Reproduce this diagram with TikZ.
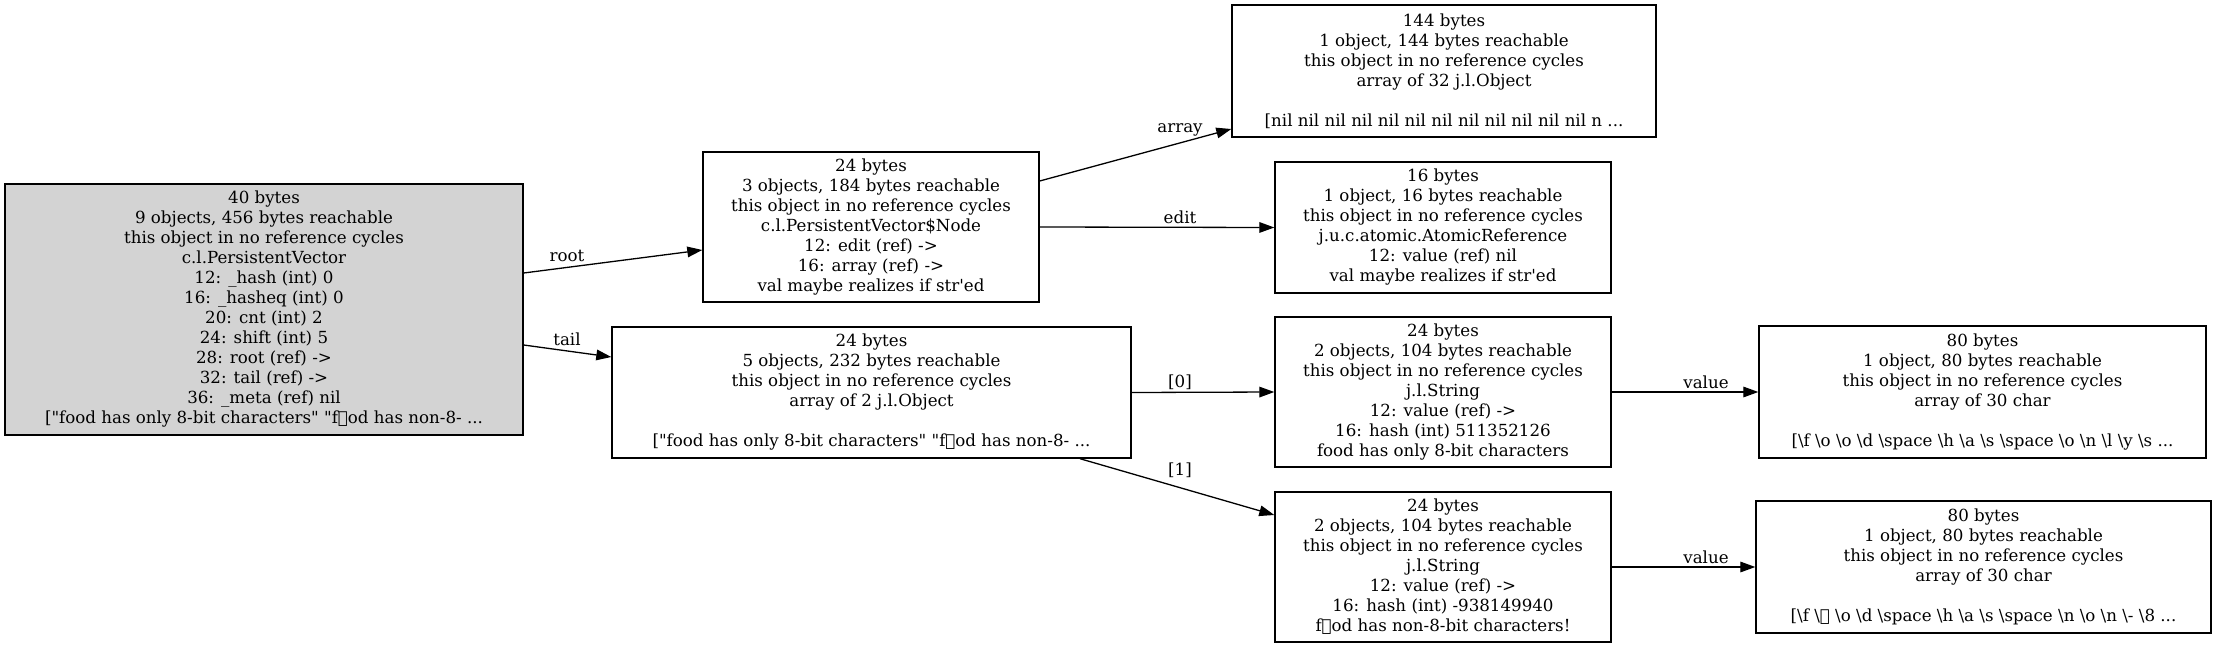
\documentclass[tikz,border=0pt]{standalone}
\usepackage{fontspec}
\setmainfont{DejaVu Serif}[Ligatures=TeXOff]
\newfontfamily\ethfont{DejaVu Sans}
\usetikzlibrary{arrows.meta}
\newcommand{\ethchar}{{\ethfont ሴ}}
\newcommand{\bsl}{\textbackslash}
\newcommand{\gvfont}{\fontsize{8.33pt}{10pt}\selectfont}
\definecolor{gvgray}{RGB}{211,211,211}
\begin{document}
\begin{tikzpicture}[x=0.5pt,y=-0.5pt,
  obj/.style={draw=black, line width=0.7pt, inner sep=0pt, align=center, font=\gvfont, anchor=center},
  lbl/.style={inner sep=0pt, font=\gvfont, anchor=center},
  ed/.style={line width=0.65pt, -{Triangle[length=7.5pt,width=5.3pt]}}]
\useasboundingbox (0,0) rectangle (2216,648);

\node[obj, fill=gvgray, minimum width=259pt, minimum height=125.5pt] (root) at (264,309.5)
 {40 bytes\\9 objects, 456 bytes reachable\\this object in no reference cycles\\c.l.PersistentVector\\12: \_hash (int) 0\\16: \_hasheq (int) 0\\20: cnt (int) 2\\24: shift (int) 5\\28: root (ref) ->\\32: tail (ref) ->\\36: \_meta (ref) nil\\{[}"food has only 8-bit characters" "f\ethchar od has non-8- ...};

\node[obj, minimum width=168pt, minimum height=75pt] (n1) at (871,227)
 {24 bytes\\3 objects, 184 bytes reachable\\this object in no reference cycles\\c.l.PersistentVector\$Node\\12: edit (ref) ->\\16: array (ref) ->\\val maybe realizes if str'ed};

\node[obj, minimum width=259.5pt, minimum height=65.5pt] (n2) at (871.5,392.5)
 {24 bytes\\5 objects, 232 bytes reachable\\this object in no reference cycles\\array of 2 j.l.Object\\\mbox{}\\{[}"food has only 8-bit characters" "f\ethchar od has non-8- ...};

\node[obj, minimum width=212pt, minimum height=66pt] (n3) at (1444,71)
 {144 bytes\\1 object, 144 bytes reachable\\this object in no reference cycles\\array of 32 j.l.Object\\\mbox{}\\{[}nil nil nil nil nil nil nil nil nil nil nil nil n ...};

\node[obj, minimum width=168pt, minimum height=65.5pt] (n4) at (1443,227.5)
 {16 bytes\\1 object, 16 bytes reachable\\this object in no reference cycles\\j.u.c.atomic.AtomicReference\\12: value (ref) nil\\val maybe realizes if str'ed};

\node[obj, minimum width=168pt, minimum height=75pt] (n5) at (1443,392)
 {24 bytes\\2 objects, 104 bytes reachable\\this object in no reference cycles\\j.l.String\\12: value (ref) ->\\16: hash (int) 511352126\\food has only 8-bit characters};

\node[obj, minimum width=168pt, minimum height=75pt] (n6) at (1443,567)
 {24 bytes\\2 objects, 104 bytes reachable\\this object in no reference cycles\\j.l.String\\12: value (ref) ->\\16: hash (int) -938149940\\f\ethchar od has non-8-bit characters!};

\node[obj, minimum width=223.5pt, minimum height=66pt] (n7) at (1982.5,392)
 {80 bytes\\1 object, 80 bytes reachable\\this object in no reference cycles\\array of 30 char\\\mbox{}\\{[}\bsl f \bsl o \bsl o \bsl d \bsl space \bsl h \bsl a \bsl s \bsl space \bsl o \bsl n \bsl l \bsl y \bsl s ...};

\node[obj, minimum width=227.5pt, minimum height=66pt] (n8) at (1983.5,567)
 {80 bytes\\1 object, 80 bytes reachable\\this object in no reference cycles\\array of 30 char\\\mbox{}\\{[}\bsl f \bsl\ethchar\ \bsl o \bsl d \bsl space \bsl h \bsl a \bsl s \bsl space \bsl n \bsl o \bsl n \bsl - \bsl 8 ...};

\draw[ed] ([yshift=18.25pt]root.east) -- ([yshift=-11.5pt]n1.west);
\draw[ed] ([yshift=-17.75pt]root.east) -- ([yshift=17.75pt]n2.west);
\draw[ed] ([yshift=23pt]n1.east) -- ([yshift=-29pt]n3.west);
\draw[ed] (n1.east) -- (n4.west);
\draw[ed] (n2.east) -- (n5.west);
\draw[ed] ([xshift=104.25pt]n2.south) -- ([yshift=26pt]n6.west);
\draw[ed] (n5.east) -- (n7.west);
\draw[ed] (n6.east) -- (n8.west);

\node[lbl] (lroot) at (567,256) {root};
\node[lbl] (ltail) at (567,339) {tail};
\node[lbl] (larray) at (1180,130) {array};
\node[lbl] (ledit) at (1180,217) {edit};
\node[lbl] (l0) at (1180,382) {[0]};
\node[lbl] (l1) at (1180,470) {[1]};
\node[lbl] (lv1) at (1706,382) {value};
\node[lbl] (lv2) at (1706,557) {value};
\end{tikzpicture}
\end{document}
